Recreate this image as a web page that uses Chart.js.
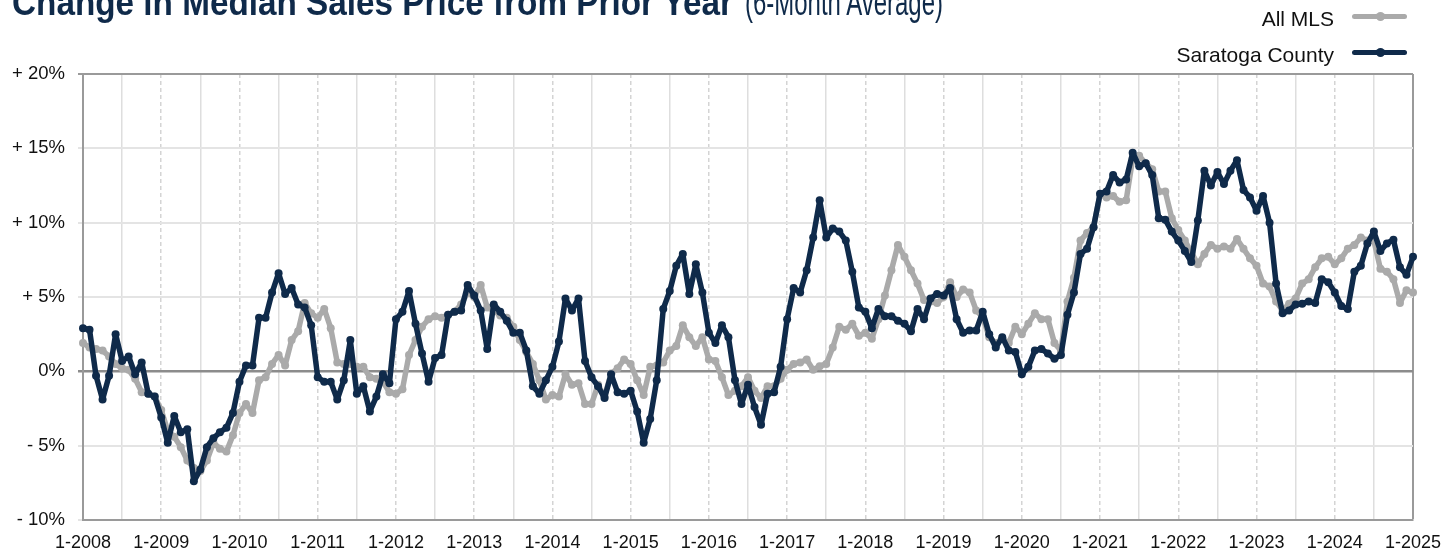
<!DOCTYPE html>
<html>
<head>
<meta charset="utf-8">
<script src="https://cdn.jsdelivr.net/npm/chart.js@4.4.1/dist/chart.umd.min.js"></script>
<style>
  html, body { margin: 0; padding: 0; background: #fff; }
  #wrap { position: relative; width: 1446px; height: 550px; overflow: hidden; font-family: "Liberation Sans", Arial, sans-serif; }
  #chartBox { position: absolute; left: 0; top: 0; width: 1446px; height: 550px; }
  .ttl { position: absolute; top: -15px; font-size: 37px; line-height: 36px; color: #0f2a4a; white-space: nowrap; transform-origin: 0 0; }
  #ttlBold { left: 12px; font-weight: bold; }
  #ttlNorm { left: 745px; font-weight: normal; }
  .lgText { position: absolute; right: 112px; font-size: 21px; line-height: 21px; color: #111; white-space: nowrap; }
  .lgLine { position: absolute; left: 1352px; width: 55px; height: 5px; border-radius: 3px; }
  .lgDot { position: absolute; left: 1376px; width: 9px; height: 9px; border-radius: 50%; }
</style>
</head>
<body>
<div id="wrap">
  <div id="chartBox"><canvas id="line-chart"></canvas></div>
  <span class="ttl" id="ttlBold">Change in Median Sales Price from Prior Year</span>
  <span class="ttl" id="ttlNorm">(6-Month Average)</span>
  <div class="lgText" style="top:8px">All MLS</div>
  <div class="lgLine" style="top:13.5px;background:#aaaaaa"></div>
  <div class="lgDot" style="top:11.5px;background:#aaaaaa"></div>
  <div class="lgText" style="top:44px">Saratoga County</div>
  <div class="lgLine" style="top:49.5px;background:#0f2a4a"></div>
  <div class="lgDot" style="top:47.5px;background:#0f2a4a"></div>
</div>
<script>
// month labels 1-2008 ... 1-2025
const months = [];
for (let y = 2008; y <= 2025; y++) {
  for (let m = 1; m <= 12; m++) {
    if (y === 2025 && m > 1) break;
    months.push(m + '-' + y);
  }
}

const yTickValues = [-10, -5, 0, 5, 10, 15, 20];
const yTickLabels = ['- 10%', '- 5%', '0%', '+ 5%', '+ 10%', '+ 15%', '+ 20%'];

// 6-month average change in median sales price, %
const allMls = [
  1.9, 1.6, 1.5, 1.4, 1.0, 0.5, 0.2, 0.1, -0.5, -1.4, -1.5, -1.7,
  -2.6, -4.0, -4.4, -5.1, -6.0, -6.5, -6.7, -6.0, -4.8, -5.2, -5.4, -4.3,
  -2.8, -2.2, -2.8, -0.6, -0.4, 0.5, 1.1, 0.4, 2.1, 2.7, 4.6, 3.9,
  3.6, 4.2, 2.9, 0.6, 0.5, 0.5, 0.3, 0.3, -0.4, -0.5, -0.7, -1.4,
  -1.5, -1.2, 1.1, 2.1, 3.0, 3.5, 3.7, 3.6, 3.8, 4.0, 4.5, 5.3,
  5.0, 5.8, 4.3, 4.1, 3.75, 3.6, 3.0, 2.1, 1.3, 0.5, -0.6, -1.9,
  -1.6, -1.7, -0.2, -0.9, -0.8, -2.2, -2.2, -0.9, -1.7, -0.15, 0.2, 0.8,
  0.5, -0.6, -1.6, 0.3, 0.4, 0.6, 1.4, 1.7, 3.1, 2.3, 1.7, 2.3,
  0.8, 0.7, -0.4, -1.6, -1.3, -1.0, -0.4, -1.3, -1.8, -1.0, -1.0, -0.5,
  0.1, 0.5, 0.6, 0.8, 0.1, 0.35, 0.5, 1.6, 3.0, 2.8, 3.2, 2.4,
  2.6, 2.2, 3.5, 5.1, 6.8, 8.5, 7.7, 6.8, 5.9, 4.8, 4.7, 4.6,
  5.0, 6.0, 5.0, 5.5, 5.3, 4.1, 3.65, 2.3, 1.9, 2.2, 1.9, 3.0,
  2.5, 3.2, 3.9, 3.5, 3.5, 1.9, 1.4, 4.7, 6.3, 8.8, 9.3, 9.7,
  11.9, 11.7, 11.8, 11.4, 11.5, 14.3, 14.5, 14.0, 13.6, 12.1, 12.1, 10.3,
  9.5, 8.8, 8.0, 7.2, 7.9, 8.5, 8.25, 8.4, 8.25, 8.9, 8.25, 7.6,
  7.1, 5.9, 5.7, 4.7, 4.1, 4.55, 4.9, 5.9, 6.2, 7.0, 7.6, 7.7,
  7.2, 7.6, 8.25, 8.5, 9.0, 8.8, 8.8, 6.9, 6.7, 6.2, 4.6, 5.45,
  5.3
];

const saratoga = [
  2.9, 2.8, -0.3, -1.9, -0.3, 2.5, 0.7, 1.0, -0.2, 0.6, -1.5, -1.7,
  -3.1, -4.8, -3.0, -4.1, -3.9, -7.4, -6.6, -5.1, -4.5, -4.1, -3.8, -2.8,
  -0.7, 0.4, 0.4, 3.6, 3.6, 5.3, 6.6, 5.2, 5.6, 4.5, 4.3, 3.1,
  -0.4, -0.7, -0.7, -1.9, -0.6, 2.1, -1.5, -1.0, -2.7, -1.7, -0.2, -0.8,
  3.5, 4.0, 5.4, 3.2, 1.2, -0.7, 0.9, 1.1, 3.8, 4.0, 4.1, 5.8,
  5.1, 4.1, 1.5, 4.5, 4.0, 3.4, 2.6, 2.6, 1.4, -1.0, -1.5, -0.6,
  0.3, 2.0, 4.9, 4.1, 4.9, 0.7, -0.4, -1.0, -1.8, -0.2, -1.4, -1.5,
  -1.3, -2.7, -4.8, -3.2, -0.6, 4.2, 5.4, 7.1, 7.9, 5.2, 7.2, 5.3,
  2.6, 1.9, 3.1, 2.3, -0.6, -2.2, -0.9, -2.4, -3.6, -1.5, -1.4, 0.3,
  3.5, 5.6, 5.3, 6.8, 9.0, 11.5, 9.0, 9.6, 9.4, 8.8, 6.7, 4.3,
  4.0, 2.9, 4.2, 3.7, 3.7, 3.4, 3.2, 2.7, 4.2, 3.5, 4.9, 5.2,
  5.1, 5.6, 3.5, 2.6, 2.75, 2.75, 4.0, 2.5, 1.6, 2.3, 1.4, 1.3,
  -0.2, 0.3, 1.4, 1.5, 1.2, 0.85, 1.1, 3.8, 5.3, 7.9, 8.25, 9.7,
  11.95, 12.1, 13.2, 12.7, 12.9, 14.7, 13.8, 14.0, 13.2, 10.3, 10.2, 9.4,
  8.8, 8.1, 7.35, 10.15, 13.5, 12.5, 13.4, 12.6, 13.5, 14.2, 12.2, 11.7,
  10.8, 11.8, 10.0, 5.9, 3.9, 4.1, 4.5, 4.55, 4.7, 4.6, 6.2, 6.0,
  5.3, 4.4, 4.2, 6.7, 7.1, 8.6, 9.4, 8.1, 8.6, 8.85, 7.0, 6.5,
  7.7
];

const GRAY = '#aaaaaa';
const NAVY = '#0f2a4a';
const lastIdx = months.length - 1;

// squeeze title spans to the reference widths
function fitWidth(id, target) {
  const el = document.getElementById(id);
  const w = el.getBoundingClientRect().width;
  el.style.transform = 'scaleX(' + (target / w) + ')';
}
fitWidth('ttlBold', 721);
fitWidth('ttlNorm', 198);

const lineStyle = {
  borderWidth: 5.5,
  pointRadius: 4,
  pointBorderWidth: 0,
  tension: 0,
  borderJoinStyle: 'round',
  borderCapStyle: 'round',
};

const ctx = document.getElementById('line-chart').getContext('2d');
new Chart(ctx, {
  type: 'line',
  data: {
    labels: months,
    datasets: [
      {
        ...lineStyle,
        label: 'All MLS',
        data: allMls,
        borderColor: GRAY,
        backgroundColor: GRAY,
        pointBackgroundColor: GRAY,
        order: 2,
      },
      {
        ...lineStyle,
        label: 'Saratoga County',
        data: saratoga,
        borderColor: NAVY,
        backgroundColor: NAVY,
        pointBackgroundColor: NAVY,
        order: 1,
      },
    ],
  },
  options: {
    responsive: true,
    maintainAspectRatio: false,
    animation: false,
    layout: { padding: { top: 74, right: 33, left: 0, bottom: 0 } },
    plugins: {
      legend: { display: false },
      title: { display: false },
      tooltip: { enabled: false },
    },
    scales: {
      x: {
        afterFit: (s) => { s.height = 30; s.paddingLeft = 0; s.paddingRight = 0; },
        grid: {
          drawTicks: false,
          lineWidth: (c) => (c.index === lastIdx ? 2 : 1.5),
          color: (c) => {
            if (c.index === lastIdx) return '#9a9a9a';
            if (c.index % 12 === 0) return '#d4d4d4';
            if (c.index % 12 === 6) return '#dedede';
            return 'rgba(0,0,0,0)';
          },
        },
        border: {
          color: '#9a9a9a',
          width: 2,
          dash: (c) => (c.index % 12 === 0 && c.index !== lastIdx ? [4, 3] : []),
        },
        ticks: {
          autoSkip: false,
          maxRotation: 0,
          minRotation: 0,
          padding: 12,
          color: '#111',
          font: { family: 'Liberation Sans', size: 18 },
          callback: function (value, index) {
            return index % 12 === 0 ? months[index] : '';
          },
        },
      },
      y: {
        min: -10,
        max: 20,
        afterFit: (s) => { s.width = 83; },
        grid: {
          tickLength: 5,
          lineWidth: (c) => (c.tick && c.tick.value === 0 ? 2.5 : 2),
          color: (c) => {
            if (!c.tick) return '#e4e4e4';
            if (c.tick.value === 0) return '#8c8c8c';
            if (c.tick.value === 20) return '#9a9a9a';
            return '#e4e4e4';
          },
        },
        border: { color: '#9a9a9a', width: 2 },
        ticks: {
          stepSize: 5,
          padding: 13,
          color: '#111',
          font: { family: 'Liberation Sans', size: 18.5 },
          callback: (v) => {
            const k = yTickValues.indexOf(v);
            return k >= 0 ? yTickLabels[k] : '';
          },
        },
      },
    },
  },
});
</script>
</body>
</html>
